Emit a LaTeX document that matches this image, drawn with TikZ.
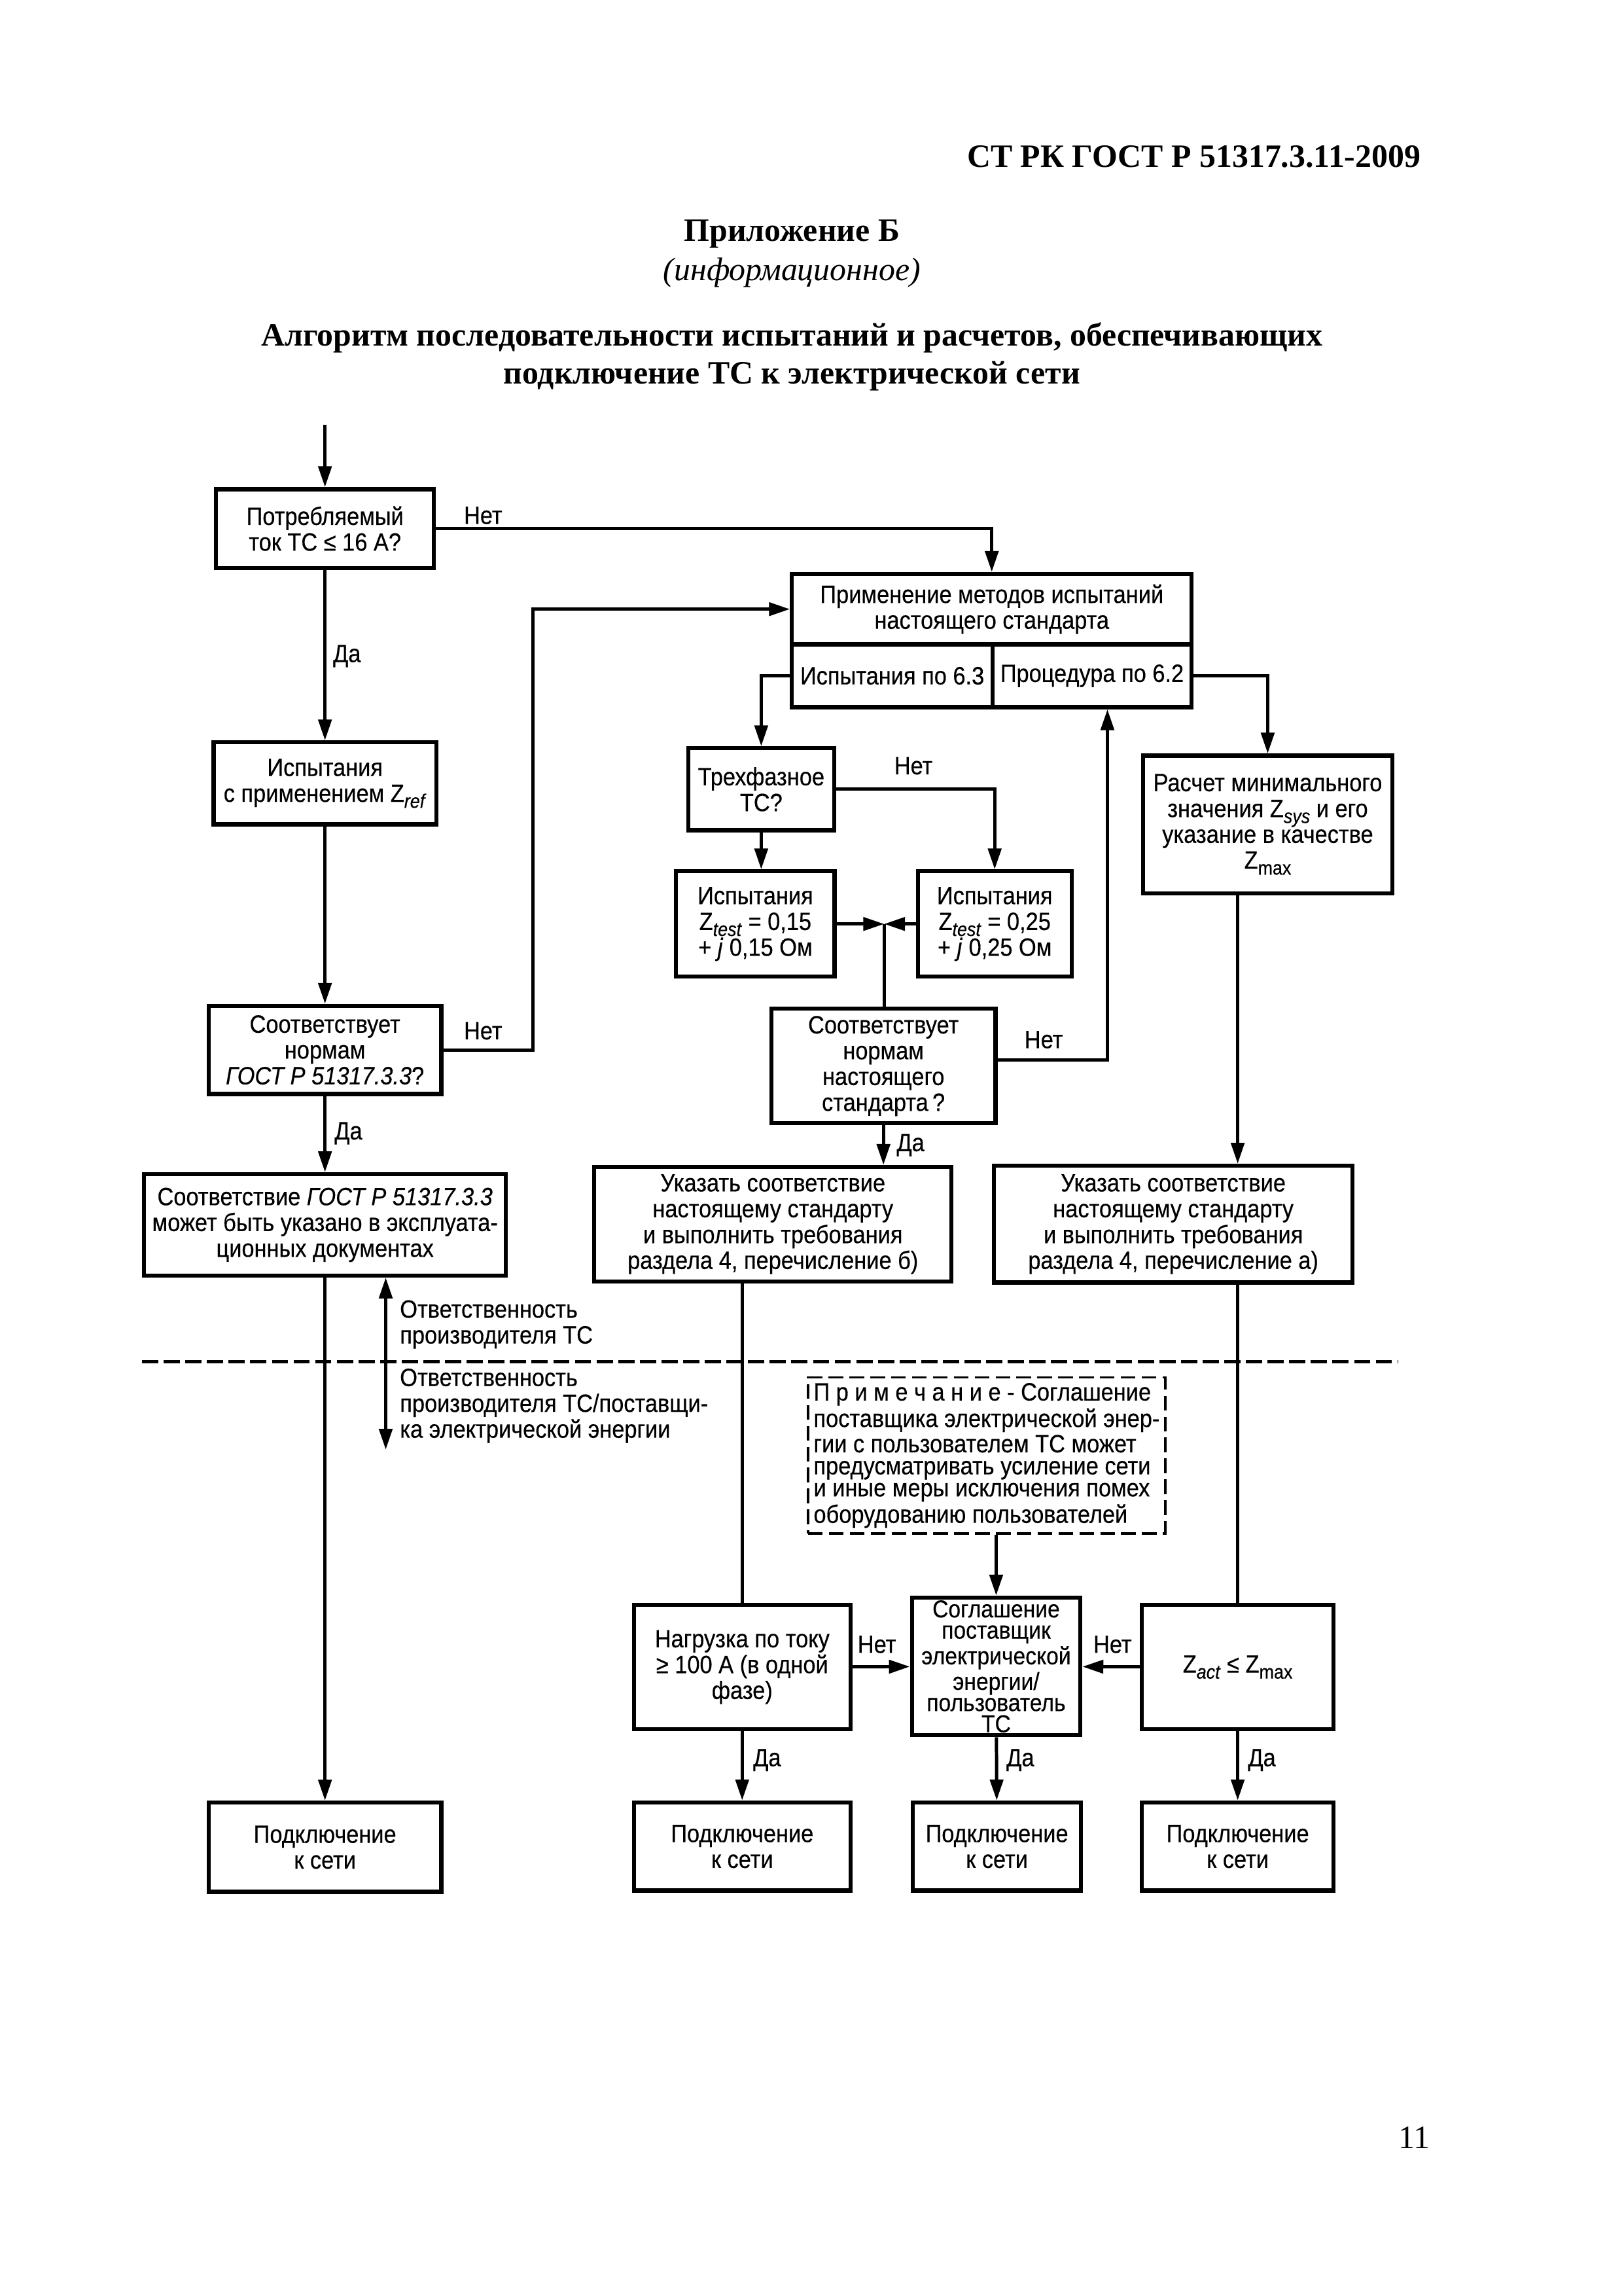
\documentclass[tikz,border=0pt]{standalone}
\usepackage{fontspec}
\setmainfont{Liberation Serif}
\newfontfamily\diafont{Liberation Sans}[FakeStretch=0.9,FakeBold=0.4]
\usepackage{tikz}
\usetikzlibrary{arrows.meta}
\newcommand{\dfont}{\diafont\fontsize{9.2pt}{9.5pt}\selectfont}
\newcommand{\nfont}{\diafont\fontsize{9.2pt}{8.1pt}\selectfont}
\newcommand{\sfont}{\diafont\fontsize{9pt}{7.8pt}\selectfont}
\newcommand{\hfont}{\fontsize{12pt}{14pt}\selectfont}
\newcommand{\zsub}[1]{\raisebox{-0.45ex}{\fontsize{7.2pt}{7.2pt}\selectfont #1}}
\tikzstyle{bx}=[rectangle,draw=black,line width=1.5pt,inner sep=1pt,
  align=center,font=\dfont]
\tikzstyle{nb}=[rectangle,draw=black,dash pattern=on 1.9mm off 0.8mm,
  line width=0.8pt,inner sep=2pt,align=left,font=\nfont]
\tikzstyle{lbl}=[inner sep=1pt,font=\dfont]
\tikzstyle{ln}=[line width=1.2pt]
\tikzstyle{arr}=[line width=1.2pt,-{Triangle[length=2.7mm,width=1.7mm]}]

\begin{document}
\begin{tikzpicture}[x=0.18936cm,y=-0.18936cm]
    \useasboundingbox (0,0) rectangle (110.9,156.8);
    % page heading
    \node [anchor=east,font=\hfont\bfseries] (hd) at (97.7,10.7) {СТ РК ГОСТ Р 51317.3.11-2009};
    \node [font=\hfont\bfseries] (ap) at (54.1,16.0) {Приложение Б};
    \node [font=\hfont\itshape] (inf) at (54.1,18.6) {(информационное)};
    \node [font=\hfont\bfseries,align=center] (ttl) at (54.1,24.35)
        {Алгоритм последовательности испытаний и расчетов, обеспечивающих\\подключение ТС к электрической сети};
    \node [font=\hfont] (pg) at (96.6,146.0) {11};

    % boxes
    \node [bx,minimum width=2.82cm,minimum height=1.02cm] (b1) at (22.2,36.1) {Потребляемый\\ток ТС ≤ 16 А?};
    \node [bx,minimum width=2.88cm,minimum height=1.06cm] (b2) at (22.2,53.5) {Испытания\\с применением Z\zsub{\textit{ref}}};
    \node [bx,minimum width=3.01cm,minimum height=1.14cm] (b3) at (22.2,71.7) {Соответствует\\нормам\\\textit{ГОСТ Р 51317.3.3}?};
    \node [bx,minimum width=4.68cm,minimum height=1.31cm] (b4) at (22.2,83.65) {Соответствие \textit{ГОСТ Р 51317.3.3}\\может быть указано в эксплуата-\\ционных документах};
    \node [bx,minimum width=3.01cm,minimum height=1.155cm] (pd1) at (22.2,126.15) {Подключение\\к сети};

    \node [bx,minimum width=5.17cm,minimum height=0.91cm] (top) at (67.75,41.6) {Применение методов испытаний\\настоящего стандарта};
    \node [bx,minimum width=2.594cm,minimum height=0.814cm] (t63) at (60.95,46.15) {Испытания по 6.3};
    \node [bx,minimum width=2.575cm,minimum height=0.814cm] (t62) at (74.6,46.15) {Процедура по 6.2};

    \node [bx,minimum width=1.89cm,minimum height=1.06cm] (tri) at (52.0,53.9) {Трехфазное\\ТС?};
    \node [bx,minimum width=2.05cm,minimum height=1.36cm] (z15) at (51.6,63.1) {Испытания\\Z\zsub{\textit{test}} = 0,15\\+ \textit{j} 0,15 Ом};
    \node [bx,minimum width=1.99cm,minimum height=1.36cm] (z25) at (67.95,63.1) {Испытания\\Z\zsub{\textit{test}} = 0,25\\+ \textit{j} 0,25 Ом};
    \node [bx,minimum width=2.90cm,minimum height=1.48cm] (std) at (60.35,72.8) {Соответствует\\нормам\\настоящего\\стандарта\,?};
    \node [bx,minimum width=3.22cm,minimum height=1.78cm] (ras) at (86.6,56.3) {Расчет минимального\\значения Z\zsub{\textit{sys}} и его\\указание в качестве\\Z\zsub{max}};
    \node [bx,minimum width=4.62cm,minimum height=1.48cm] (ukb) at (52.8,83.6) {Указать соответствие\\настоящему стандарту\\и выполнить требования\\раздела 4, перечисление б)};
    \node [bx,minimum width=4.64cm,minimum height=1.51cm] (uka) at (80.15,83.6) {Указать соответствие\\настоящему стандарту\\и выполнить требования\\раздела 4, перечисление а)};

    \node [nb,minimum width=4.62cm,minimum height=1.93cm] (note) at (67.4,99.4)
        {П р и м е ч а н и е - Соглашение\\поставщика электрической энер-\\гии с пользователем ТС может\\предусматривать усиление сети\\и иные меры исключения помех\\оборудованию пользователей};

    \node [bx,minimum width=2.80cm,minimum height=1.61cm] (nagr) at (50.7,113.85) {Нагрузка по току\\≥ 100 А (в одной\\фазе)};
    \node [bx,minimum width=2.18cm,minimum height=1.78cm,font=\sfont] (sogl) at (68.05,113.8) {Соглашение\\поставщик\\электрической\\энергии/\\пользователь\\ТС};
    \node [bx,minimum width=2.48cm,minimum height=1.61cm] (zact) at (84.55,113.85) {Z\zsub{\textit{act}} ≤ Z\zsub{max}};
    \node [bx,minimum width=2.80cm,minimum height=1.14cm] (pd2) at (50.7,126.1) {Подключение\\к сети};
    \node [bx,minimum width=2.18cm,minimum height=1.14cm] (pd3) at (68.1,126.1) {Подключение\\к сети};
    \node [bx,minimum width=2.48cm,minimum height=1.14cm] (pd4) at (84.55,126.1) {Подключение\\к сети};

    % free ends and corners
    \coordinate (s0) at (22.2,29.0);
    \coordinate (c1) at (36.4,71.7);
    \coordinate (c2) at (75.65,72.4);
    \coordinate (j) at (60.4,63.1);
    \coordinate (r1) at (26.35,99.0);
    \coordinate (d1) at (9.7,93.0);
    \coordinate (d2) at (95.5,93.0);

    % connectors
    \draw [arr] (s0) -- (b1);
    \draw [arr] (b1) -| (top);
    \draw [arr] (b1) -- (b2);
    \draw [arr] (b2) -- (b3);
    \draw [arr] (b3) -- (b4);
    \draw [arr] (b4) -- (pd1);
    \draw [arr] (b3) -- (c1) |- (top);
    \draw [arr] (t63) -| (tri);
    \draw [arr] (tri) -| (z25);
    \draw [arr] (tri) -- (tri |- z15.north);
    \draw [arr] (z15) -- (j);
    \draw [arr] (z25) -- (j);
    \draw [ln] (j) -- (j |- std.north);
    \draw [arr] (std.east |- c2) -- (c2) -- (c2 |- t62.south);
    \draw [arr] (std) -- (std |- ukb.north);
    \draw [arr] (t62) -| (ras);
    \draw [arr] (ras.south -| zact) -- (zact |- uka.north);
    \draw [ln] (uka.south -| zact) -- (zact);
    \draw [ln] (ukb.south -| nagr) -- (nagr);
    \draw [arr] (note.south -| sogl) -- (sogl);
    \draw [arr] (nagr) -- (sogl);
    \draw [arr] (zact) -- (sogl);
    \draw [arr] (nagr) -- (pd2);
    \draw [arr] (sogl) -- (pd3);
    \draw [arr] (zact) -- (pd4);
    \draw [ln,{Triangle[length=2.7mm,width=1.7mm]}-{Triangle[length=2.7mm,width=1.7mm]}] (b4.south -| r1) -- (r1);
    \draw [line width=1.3pt,dash pattern=on 2.1mm off 0.7mm] (d1) -- (d2);

    % labels
    \node [lbl] (n1) at (33.0,35.2) {Нет};
    \node [lbl] (n2) at (33.0,70.4) {Нет};
    \node [lbl] (n3) at (62.4,52.3) {Нет};
    \node [lbl] (n4) at (71.3,71.0) {Нет};
    \node [lbl] (n5) at (59.9,112.3) {Нет};
    \node [lbl] (n6) at (76.0,112.3) {Нет};
    \node [lbl] (y1) at (23.7,44.8) {Да};
    \node [lbl] (y2) at (23.8,77.4) {Да};
    \node [lbl] (y3) at (62.2,78.2) {Да};
    \node [lbl] (y4) at (52.4,120.2) {Да};
    \node [lbl] (y5) at (69.7,120.2) {Да};
    \node [lbl] (y6) at (86.2,120.2) {Да};
    \node [lbl,anchor=west,align=left] (rs1) at (27.1,90.45) {Ответственность\\производителя ТС};
    \node [lbl,anchor=west,align=left] (rs2) at (27.1,96.0) {Ответственность\\производителя ТС/поставщи-\\ка электрической энергии};
\end{tikzpicture}
\end{document}
